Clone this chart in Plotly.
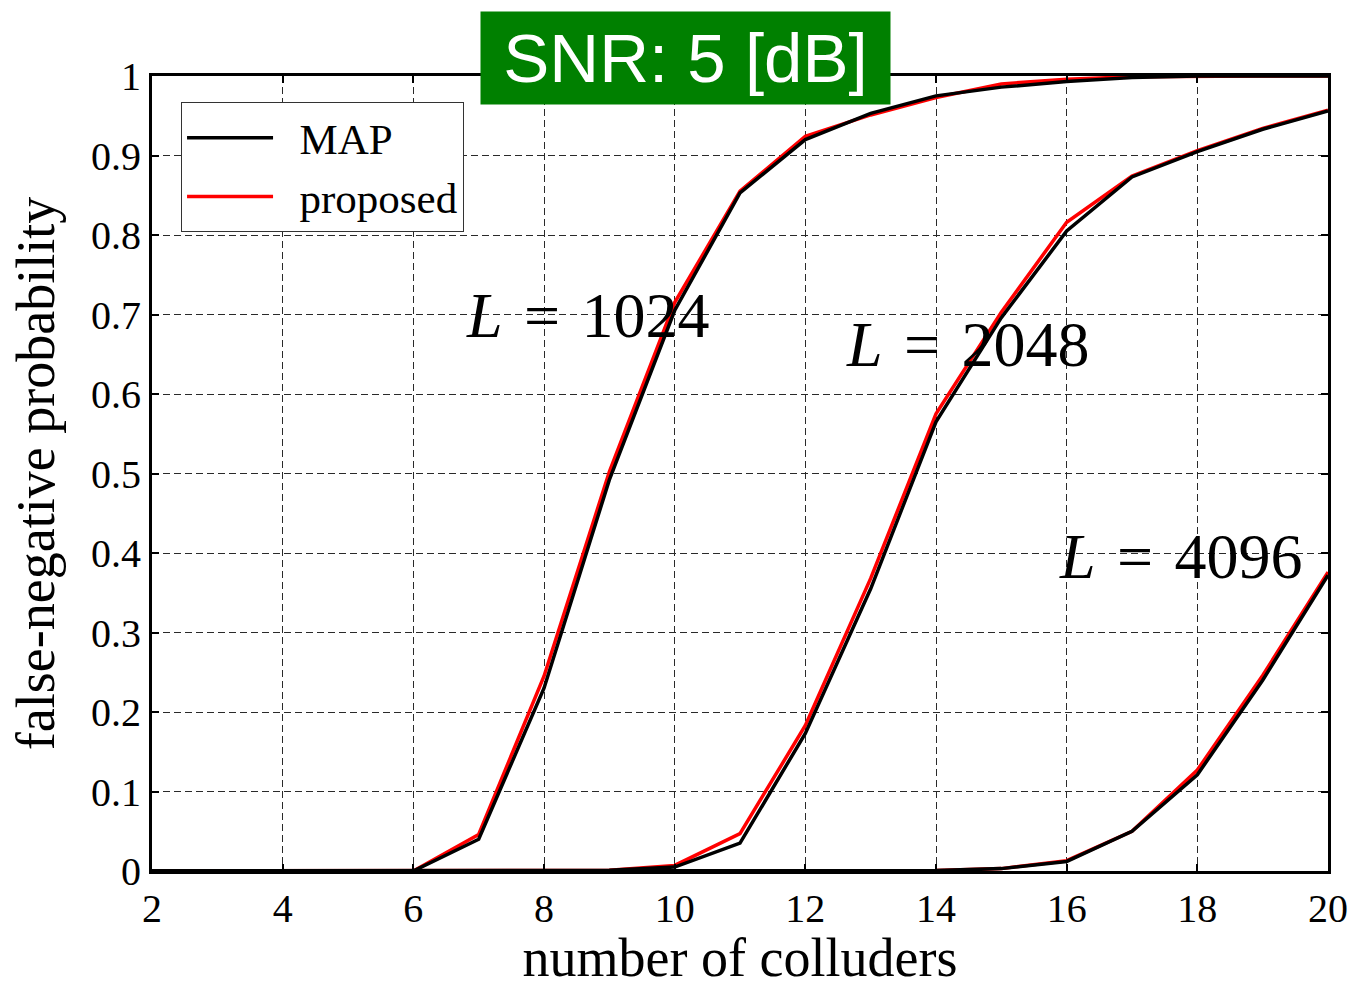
import plotly.graph_objects as go

# Number of colluders on the horizontal axis
colluders = list(range(2, 21))

# False-negative probability, MAP detector
map_1024 = [0, 0, 0, 0, 0, 0.040, 0.230, 0.492, 0.705, 0.853, 0.920, 0.953, 0.975, 0.986, 0.993, 0.998, 1.0, 1.0, 1.0]
map_2048 = [0, 0, 0, 0, 0, 0, 0, 0.001, 0.005, 0.035, 0.173, 0.355, 0.565, 0.696, 0.805, 0.873, 0.905, 0.933, 0.956]
map_4096 = [0, 0, 0, 0, 0, 0, 0, 0, 0, 0, 0, 0, 0.0005, 0.003, 0.012, 0.050, 0.121, 0.240, 0.372]

# False-negative probability, proposed detector
prop_1024 = [0, 0, 0, 0, 0, 0.046, 0.245, 0.502, 0.715, 0.855, 0.924, 0.951, 0.973, 0.990, 0.996, 0.999, 1.0, 1.0, 1.0]
prop_2048 = [0, 0, 0, 0, 0, 0, 0, 0.001, 0.007, 0.047, 0.183, 0.368, 0.575, 0.703, 0.816, 0.874, 0.906, 0.934, 0.957]
prop_4096 = [0, 0, 0, 0, 0, 0, 0, 0, 0, 0, 0, 0, 0.0005, 0.003, 0.013, 0.050, 0.127, 0.246, 0.376]

code_lengths = ["1024", "2048", "4096"]
label_x = [8.66, 14.48, 17.74]
label_y = [0.699, 0.662, 0.395]

x_ticks = [2, 4, 6, 8, 10, 12, 14, 16, 18, 20]
y_ticks = [0, 0.1, 0.2, 0.3, 0.4, 0.5, 0.6, 0.7, 0.8, 0.9, 1.0]
y_tick_text = ["0", "0.1", "0.2", "0.3", "0.4", "0.5", "0.6", "0.7", "0.8", "0.9", "1"]

SERIF = "Liberation Serif, Times New Roman, serif"

fig = go.Figure()

# proposed curves first so the MAP curves sit on top
for i, ys in enumerate([prop_1024, prop_2048, prop_4096]):
    fig.add_trace(go.Scatter(
        x=colluders, y=ys, mode="lines", name="\u2002proposed",
        line=dict(color="#ff0000", width=3.5),
        legendgroup="proposed", showlegend=(i == 0), legendrank=2,
    ))
for i, ys in enumerate([map_1024, map_2048, map_4096]):
    fig.add_trace(go.Scatter(
        x=colluders, y=ys, mode="lines", name="\u2002MAP",
        line=dict(color="#000000", width=3.5),
        legendgroup="MAP", showlegend=(i == 0), legendrank=1,
    ))

for L, lx, ly in zip(code_lengths, label_x, label_y):
    fig.add_annotation(
        x=lx, y=ly, xref="x", yref="y", showarrow=False,
        text="<i>L</i>\u2005\u200a=\u2005\u200a" + L,
        font=dict(family=SERIF, size=64, color="black"),
        xanchor="center", yanchor="middle",
    )

fig.add_annotation(
    x=0.4537, y=1.0226, xref="paper", yref="paper", showarrow=False,
    text="SNR: 5 [dB]",
    font=dict(family="Liberation Sans, Arial, sans-serif", size=69, color="white"),
    bgcolor="#008000", width=405, height=88, borderpad=2,
    xanchor="center", yanchor="middle",
)

axis_common = dict(
    showline=True, linecolor="black", linewidth=3, mirror="ticks",
    ticks="inside", ticklen=7, tickwidth=2, tickcolor="black",
    showgrid=True, gridcolor="#2a2a2a", gridwidth=1.2, griddash="7px,4px",
    zeroline=False,
    tickfont=dict(family=SERIF, size=40, color="black"),
)

fig.update_xaxes(
    range=[2, 20], tickvals=x_ticks,
    title=dict(text="number of colluders", font=dict(family=SERIF, size=54, color="black"), standoff=24),
    **axis_common,
)
fig.update_yaxes(
    range=[0, 1], tickvals=y_ticks, ticktext=y_tick_text,
    title=dict(text="false-negative probability", font=dict(family=SERIF, size=54, color="black"), standoff=20),
    **axis_common,
)

fig.update_layout(
    width=1353, height=988,
    margin=dict(l=152, r=25, t=76, b=117, autoexpand=False),
    paper_bgcolor="white", plot_bgcolor="white",
    showlegend=True,
    legend=dict(
        x=0.0247, y=0.967, xanchor="left", yanchor="top",
        bgcolor="white", bordercolor="#333333", borderwidth=1,
        font=dict(family=SERIF, size=43, color="black"),
        itemwidth=86, tracegroupgap=0,
    ),
)

fig.write_html("out.html")
